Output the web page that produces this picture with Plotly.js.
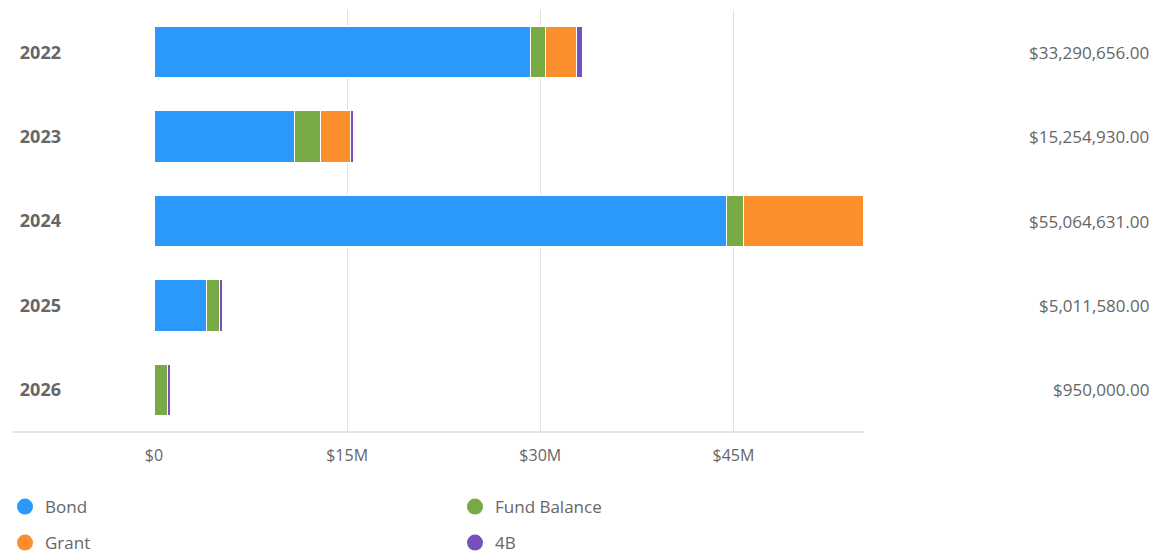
<!DOCTYPE html>
<html>
<head>
<meta charset="utf-8">
<script src="https://cdn.plot.ly/plotly-3.0.1.min.js"></script>
<style>
  html, body { margin: 0; padding: 0; background: #fff; }
  #chart { width: 1154px; height: 554px; }
</style>
</head>
<body>
<div id="chart"></div>
<script>
// Funding by year (values in dollars)
const years = ['2022', '2023', '2024', '2025', '2026'];
const bond = [29260000, 10930000, 44480000, 4050000, 0];
const fundBalance = [1130000, 1970000, 1310000, 1030000, 1010000];
const grant = [2460000, 2330000, 9290000, 0, 0];
const fourB = [430000, 230000, 60000, 230000, 250000];
const totals = ['$33,290,656.00', '$15,254,930.00', '$55,064,631.00', '$5,011,580.00', '$950,000.00'];

const tickVals = [0, 15000000, 30000000, 45000000];
const tickText = ['$0', '$15M', '$30M', '$45M'];

// px helpers for placing things outside the plot area
const plotLeft = 154, plotRight = 864, plotTop = 10, plotBottom = 432;
const px = x => (x - plotLeft) / (plotRight - plotLeft);
const py = y => (plotBottom - y) / (plotBottom - plotTop);

const series = [
    { name: 'Bond', values: bond, color: '#2b99fa', legend: 'legend', lx: 5, ly: 507 },
    { name: 'Fund Balance', values: fundBalance, color: '#77a944', legend: 'legend2', lx: 455, ly: 507 },
    { name: 'Grant', values: grant, color: '#fc8f2d', legend: 'legend3', lx: 5, ly: 543 },
    { name: '4B', values: fourB, color: '#7850be', legend: 'legend4', lx: 455, ly: 543 }
];

const gray = '#666666';
const font = 'Open Sans, Lato, sans-serif';

const traces = [];
series.forEach(s => {
    // the bars themselves
    traces.push({
        type: 'bar',
        orientation: 'h',
        y: years,
        x: s.values,
        name: s.name,
        legendgroup: s.name,
        showlegend: false,
        marker: { color: s.color, line: { color: '#ffffff', width: 1 } },
        hoverinfo: 'x+name'
    });
});
series.forEach(s => {
    // legend entry with a round marker, on a hidden pair of axes
    traces.push({
        type: 'scatter',
        mode: 'markers',
        xaxis: 'x2',
        yaxis: 'y2',
        x: [null],
        y: [null],
        name: s.name,
        legendgroup: s.name,
        legend: s.legend,
        marker: { color: s.color, size: 18, symbol: 'circle' },
        hoverinfo: 'skip'
    });
});

// total per year, right-aligned at the far right of the page
const annotations = years.map((yr, i) => ({
    xref: 'paper', yref: 'y',
    x: px(1151), y: i,
    xanchor: 'right', yanchor: 'middle',
    text: totals[i],
    showarrow: false,
    font: { family: font, size: 17, color: gray }
}));

const layout = {
    width: 1154,
    height: 554,
    margin: { l: plotLeft, r: 1154 - plotRight, t: plotTop, b: 554 - plotBottom, pad: 0, autoexpand: false },
    paper_bgcolor: '#ffffff',
    plot_bgcolor: '#ffffff',
    barmode: 'stack',
    bargap: 0.39,
    font: { family: font, color: gray },
    xaxis: {
        range: [0, 55140000],
        tickvals: tickVals,
        ticktext: tickText,
        showgrid: true,
        gridcolor: '#e2e2e2',
        gridwidth: 1,
        zeroline: false,
        showline: false,
        ticks: '',
        ticklabelstandoff: 12,
        tickfont: { family: font, size: 16, color: gray },
        automargin: false,
        fixedrange: true
    },
    yaxis: {
        type: 'category',
        categoryorder: 'array',
        categoryarray: years,
        range: [years.length - 0.5, -0.5],
        autorange: false,
        showgrid: false,
        zeroline: false,
        showline: false,
        ticks: '',
        ticklabelstandoff: 92,
        tickfont: { family: font, size: 18, color: gray, weight: 'bold' },
        automargin: false,
        fixedrange: true
    },
    xaxis2: { visible: false, overlaying: 'x', range: [0, 1] },
    yaxis2: { visible: false, overlaying: 'y', range: [0, 1] },
    shapes: [{
        type: 'line',
        xref: 'paper', yref: 'paper',
        x0: px(13), x1: 1, y0: 0, y1: 0,
        line: { color: '#d9d9d9', width: 1.5 }
    }],
    annotations: annotations,
    showlegend: true
};

series.forEach(s => {
    layout[s.legend] = {
        orientation: 'h',
        x: px(s.lx), y: py(s.ly),
        xanchor: 'left', yanchor: 'middle',
        font: { family: font, size: 17, color: gray },
        bgcolor: 'rgba(0,0,0,0)'
    };
});

Plotly.newPlot('chart', traces, layout, { displayModeBar: false, responsive: false });
</script>
</body>
</html>
